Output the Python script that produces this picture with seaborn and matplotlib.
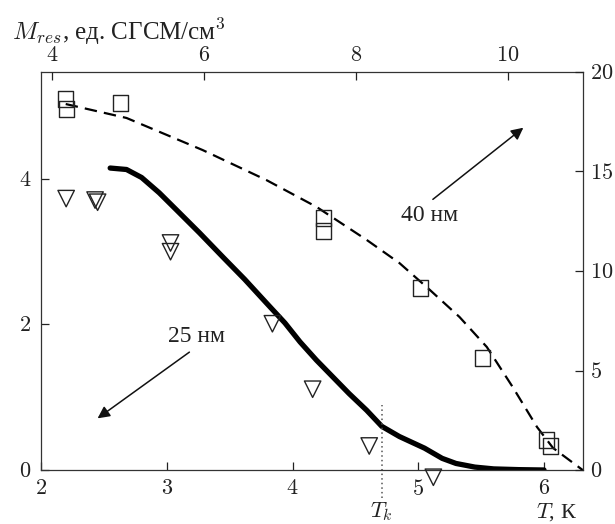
import numpy as np
import pandas as pd
import seaborn as sns
import matplotlib
matplotlib.use("Agg")
from matplotlib import pyplot as plt
import matplotlib.transforms as mtransforms
from matplotlib.ticker import FixedLocator, FuncFormatter

# --- data ---
# 25 nm sample (bottom T axis, left M_res axis)
T_curve = [2.55, 2.68, 2.80, 2.94, 3.08, 3.26, 3.45, 3.62, 3.79, 3.94, 4.06, 4.19,
           4.32, 4.45, 4.59, 4.71, 4.85, 5.05, 5.19, 5.30, 5.45, 5.60, 5.80, 6.00]
M_curve = [4.15, 4.13, 4.02, 3.81, 3.57, 3.26, 2.92, 2.62, 2.30, 2.02, 1.76, 1.51,
           1.28, 1.05, 0.82, 0.60, 0.46, 0.30, 0.16, 0.09, 0.04, 0.015, 0.005, 0.0]
T_tri = [2.20, 2.43, 2.45, 3.03, 3.03, 3.84, 4.16, 4.61, 5.12]
M_tri = [3.73, 3.71, 3.68, 3.12, 3.00, 2.01, 1.11, 0.33, -0.10]
T_k = 4.71

# 40 nm sample (top axis, right axis)
t_sq = [4.18, 4.19, 4.90, 7.57, 7.57, 8.85, 9.66, 10.50, 10.56]
R_sq = [18.64, 18.14, 18.44, 12.66, 12.01, 9.15, 5.63, 1.51, 1.21]
t_fit = [4.18, 4.98, 5.98, 6.82, 7.48, 8.14, 8.57, 8.97, 9.36, 9.72, 10.06, 10.38, 10.59, 10.98]
R_fit = [18.39, 17.69, 16.08, 14.57, 13.22, 11.56, 10.40, 9.05, 7.69, 6.18, 4.17, 2.16, 1.11, 0.0]

bottom_ticks = [2, 3, 4, 5, 6]
left_ticks = [0, 2, 4]
top_ticks = [4, 6, 8, 10]
right_ticks = [0, 5, 10, 15, 20]

df25 = pd.DataFrame({"T": T_curve, "M": M_curve})
tri25 = pd.DataFrame({"T": T_tri, "M": M_tri})
sq40 = pd.DataFrame({"t": t_sq, "R": R_sq})
fit40 = pd.DataFrame({"t": t_fit, "R": R_fit})

sns.set_theme(style="ticks")
plt.rcParams["font.family"] = ["Liberation Serif", "DejaVu Serif"]
plt.rcParams["mathtext.fontset"] = "cm"
plt.rcParams["axes.edgecolor"] = "#333333"
plt.rcParams["axes.linewidth"] = 0.9

fig = plt.figure(figsize=(6.15, 5.24), dpi=100)
rect = [41 / 615, 54 / 524, 542 / 615, 398 / 524]
ax = fig.add_axes(rect)
ax2 = fig.add_axes(rect, label="top-right")
ax2.patch.set_visible(False)

# 25 nm
sns.lineplot(data=df25, x="T", y="M", ax=ax, color="black", linewidth=3.8,
             solid_capstyle="round")
sns.scatterplot(data=tri25, x="T", y="M", ax=ax, marker="v", s=140,
                facecolor="none", edgecolor="#222222", linewidth=1.0,
                clip_on=False, zorder=5)
ax.axvline(T_k, ymin=-0.07, ymax=0.163, color="#555555", linestyle=(0, (1, 2)),
           linewidth=1.1, clip_on=False)

# 40 nm
sns.lineplot(data=fit40, x="t", y="R", ax=ax2, color="black", linewidth=1.6,
             linestyle=(0, (5.6, 3.2)))
sns.scatterplot(data=sq40, x="t", y="R", ax=ax2, marker="s", s=120,
                facecolor="none", edgecolor="#222222", linewidth=1.0,
                clip_on=False, zorder=5)

# axes limits and ticks
ax.set_xlim(2, 6.31)
ax.set_ylim(0, 5.47)
ax2.set_xlim(3.855, 10.985)
ax2.set_ylim(0, 20)

fmt = FuncFormatter(lambda v, p: f"${v:g}$")
ax.xaxis.set_major_locator(FixedLocator(bottom_ticks))
ax.yaxis.set_major_locator(FixedLocator(left_ticks))
ax2.xaxis.set_major_locator(FixedLocator(top_ticks))
ax2.yaxis.set_major_locator(FixedLocator(right_ticks))
for a in (ax, ax2):
    a.xaxis.set_major_formatter(fmt)
    a.yaxis.set_major_formatter(fmt)
    a.set_xlabel("")
    a.set_ylabel("")

ax.tick_params(direction="in", length=6, width=0.9, labelsize=16, pad=7,
               colors="#222222", top=False, right=False)
ax2.xaxis.tick_top()
ax2.yaxis.tick_right()
ax2.tick_params(direction="in", length=6, width=0.9, labelsize=16,
                colors="#222222")
ax2.tick_params(axis="x", pad=4)
ax2.tick_params(axis="y", pad=5)
for s in ax2.spines.values():
    s.set_visible(False)
for s in ax.spines.values():
    s.set_visible(True)

# labels
fig.text(12 / 615, 1 - 40 / 524, "$M_{res}$, ед. СГСМ/см$^3$", fontsize=18,
         ha="left", va="baseline", color="#222222")
trans = mtransforms.blended_transform_factory(ax.transData, ax.transAxes)
ax.text(T_k, -0.105, "$T_k$", transform=trans, ha="center", va="center",
        fontsize=16, color="#222222")
ax.text(0.952, -0.105, "$T$, К", transform=ax.transAxes, ha="center",
        va="center", fontsize=16, color="#222222")

# annotations
ax2.text(8.97, 12.8, "40 нм", ha="center", va="center", fontsize=17, color="#222222")
ax2.annotate("", xy=(10.20, 17.2), xytext=(9.01, 13.6),
             arrowprops=dict(arrowstyle="-|>", color="#111111", lw=1.1,
                             mutation_scale=18, shrinkA=0, shrinkB=0))
ax.text(3.24, 1.83, "25 нм", ha="center", va="center", fontsize=17, color="#222222")
ax.annotate("", xy=(2.45, 0.71), xytext=(3.18, 1.62),
            arrowprops=dict(arrowstyle="-|>", color="#111111", lw=1.1,
                            mutation_scale=18, shrinkA=0, shrinkB=0))

plt.savefig("out.png", dpi=100)
